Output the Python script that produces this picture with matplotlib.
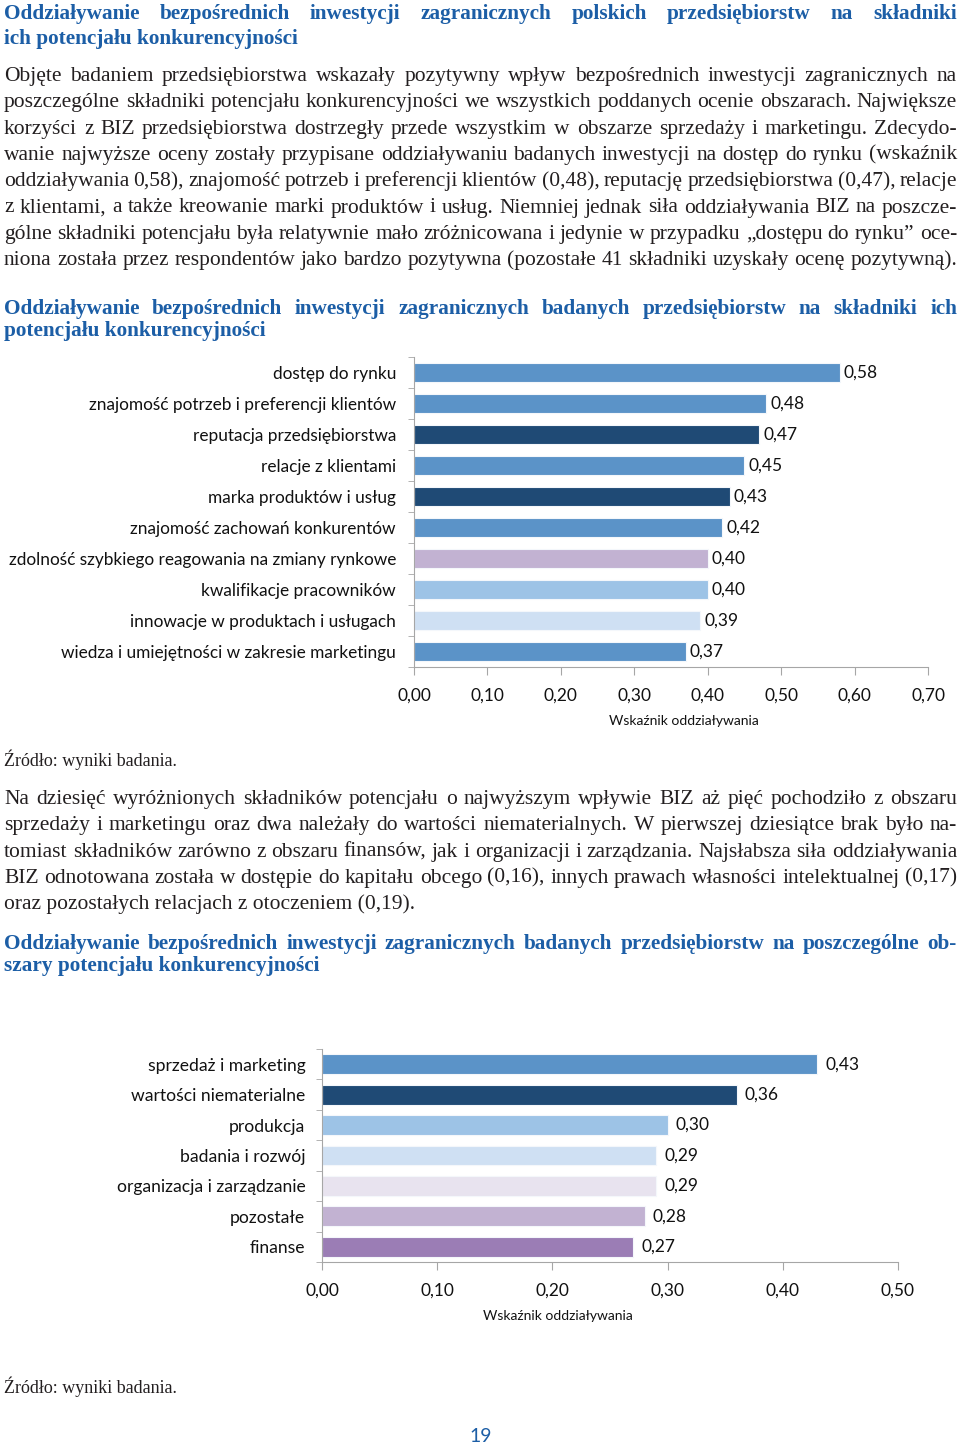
import matplotlib.pyplot as plt
import numpy as np

# --- data ---
cats_top = ['dostęp do rynku', 'znajomość potrzeb i preferencji klientów', 'reputacja przedsiębiorstwa',
            'relacje z klientami', 'marka produktów i usług', 'znajomość zachowań konkurentów',
            'zdolność szybkiego reagowania na zmiany rynkowe', 'kwalifikacje pracowników',
            'innowacje w produktach i usługach', 'wiedza i umiejętności w zakresie marketingu']
vals_top = [0.58, 0.48, 0.47, 0.45, 0.43, 0.42, 0.40, 0.40, 0.39, 0.37]
colors_top = ['#5b93c8', '#5b93c8', '#1f4a75', '#5b93c8', '#1f4a75', '#5b93c8',
              '#c2b2d2', '#9dc3e6', '#cfe0f3', '#5b93c8']

cats_bot = ['sprzedaż i marketing', 'wartości niematerialne', 'produkcja', 'badania i rozwój',
            'organizacja i zarządzanie', 'pozostałe', 'finanse']
vals_bot = [0.43, 0.36, 0.30, 0.29, 0.29, 0.28, 0.27]
colors_bot = ['#5b93c8', '#1f4a75', '#9dc3e6', '#cfe0f3', '#e8e3ef', '#c2b2d2', '#9b7db5']

title1 = ['Oddziaływanie bezpośrednich inwestycji zagranicznych polskich przedsiębiorstw na składniki',
          'ich potencjału konkurencyjności']
para1 = ['Objęte badaniem przedsiębiorstwa wskazały pozytywny wpływ bezpośrednich inwestycji zagranicznych na',
         'poszczególne składniki potencjału konkurencyjności we wszystkich poddanych ocenie obszarach. Największe',
         'korzyści z BIZ przedsiębiorstwa dostrzegły przede wszystkim w obszarze sprzedaży i marketingu. Zdecydo-',
         'wanie najwyższe oceny zostały przypisane oddziaływaniu badanych inwestycji na dostęp do rynku (wskaźnik',
         'oddziaływania 0,58), znajomość potrzeb i preferencji klientów (0,48), reputację przedsiębiorstwa (0,47), relacje',
         'z klientami, a także kreowanie marki produktów i usług. Niemniej jednak siła oddziaływania BIZ na poszcze-',
         'gólne składniki potencjału była relatywnie mało zróżnicowana i jedynie w przypadku „dostępu do rynku” oce-',
         'niona została przez respondentów jako bardzo pozytywna (pozostałe 41 składniki uzyskały ocenę pozytywną).']
title2 = ['Oddziaływanie bezpośrednich inwestycji zagranicznych badanych przedsiębiorstw na składniki ich',
          'potencjału konkurencyjności']
para2 = ['Na dziesięć wyróżnionych składników potencjału o najwyższym wpływie BIZ aż pięć pochodziło z obszaru',
         'sprzedaży i marketingu oraz dwa należały do wartości niematerialnych. W pierwszej dziesiątce brak było na-',
         'tomiast składników zarówno z obszaru finansów, jak i organizacji i zarządzania. Najsłabsza siła oddziaływania',
         'BIZ odnotowana została w dostępie do kapitału obcego (0,16), innych prawach własności intelektualnej (0,17)',
         'oraz pozostałych relacjach z otoczeniem (0,19).']
title3 = ['Oddziaływanie bezpośrednich inwestycji zagranicznych badanych przedsiębiorstw na poszczególne ob-',
          'szary potencjału konkurencyjności']
source = 'Źródło: wyniki badania.'
xlabel = 'Wskaźnik oddziaływania'

BLUE = '#1c5ea6'
TXT = '#231f20'
SERIF = 'Liberation Serif'
SANS = 'Lato'

W, H = 960, 1443
fig = plt.figure(figsize=(W / 100, H / 100), dpi=100)
page = fig.add_axes([0, 0, 1, 1])
page.set_xlim(0, W)
page.set_ylim(H, 0)
page.axis('off')
renderer = fig.canvas.get_renderer()


def text_line(s, y, justify=True, x0=4, x1=957, **kw):
    words = s.split(' ')
    if not justify or len(words) == 1:
        page.text(x0, y, s, va='baseline', ha='left', **kw)
        return
    objs = [page.text(0, y, w, va='baseline', ha='left', **kw) for w in words]
    widths = [o.get_window_extent(renderer).width for o in objs]
    gap = (x1 - x0 - sum(widths)) / (len(words) - 1)
    x = x0
    for o, w in zip(objs, widths):
        o.set_x(x)
        x += w + gap


def block(lines, baselines, last_justify, **kw):
    for i, (s, y) in enumerate(zip(lines, baselines)):
        j = True if i < len(lines) - 1 else last_justify
        text_line(s, y, justify=j, **kw)


title_kw = dict(family=SERIF, fontsize=15.3, fontweight='bold', color=BLUE)
body_kw = dict(family=SERIF, fontsize=15.5, color=TXT)

block(title1, [19, 44], False, **title_kw)
block(para1, [81 + 26.3 * i for i in range(8)], True, **body_kw)
block(title2, [314, 336], False, **title_kw)
page.text(4, 766, source, va='baseline', family=SERIF, fontsize=13, color=TXT)
block(para2, [804 + 26.3 * i for i in range(5)], False, **body_kw)
block(title3, [949, 971], False, **title_kw)
page.text(4, 1393, source, va='baseline', family=SERIF, fontsize=13, color=TXT)
page.text(481, 1442, '19', va='baseline', ha='center', family=SANS, fontsize=14, color=BLUE)


def fmt(v):
    return f'{v:.2f}'.replace('.', ',')


def bar_chart(l, t, r, b, cats, vals, colors, xmax, ypad, bar_h, val_off, label_x, label_y, cat_size):
    ax = fig.add_axes([l / W, 1 - b / H, (r - l) / W, (b - t) / H])
    y = np.arange(len(cats))
    ax.barh(y, vals, height=bar_h, color=colors, edgecolor='#f4f7fb', linewidth=0.8)
    ax.set_ylim(len(cats) - 0.5, -0.5)
    ax.set_xlim(0, xmax)
    ax.set_yticks(y, cats, family=SANS, fontsize=cat_size, color='#111111')
    ax.set_yticks(np.arange(len(cats) + 1) - 0.5, minor=True)
    ax.tick_params(axis='y', which='major', length=0, pad=ypad)
    ax.tick_params(axis='y', which='minor', length=4, color='#a6a6a6')
    xt = np.round(np.arange(0, xmax + 0.001, 0.1), 2)
    ax.set_xticks(xt, [fmt(v) for v in xt], family=SANS, fontsize=12.5, color='#111111')
    ax.tick_params(axis='x', length=6, color='#a6a6a6', pad=9)
    for s in ['top', 'right']:
        ax.spines[s].set_visible(False)
    for s in ['left', 'bottom']:
        ax.spines[s].set_color('#a6a6a6')
    px = xmax / (r - l)
    for yi, v in zip(y, vals):
        ax.text(v + val_off * px, yi, fmt(v), va='center', ha='left', family=SANS, fontsize=12.5, color='#111111')
    ax.set_xlabel(xlabel, family=SANS, fontsize=10, color='#111111', va='center')
    ax.xaxis.set_label_coords((label_x - l) / (r - l), (b - label_y) / (b - t))
    ax.patch.set_alpha(0)
    return ax


bar_chart(414, 357, 928, 667, cats_top, vals_top, colors_top, 0.70, 13, 0.6, 4, 684, 721, 12.4)
bar_chart(322, 1049, 898, 1262, cats_bot, vals_bot, colors_bot, 0.50, 12, 0.65, 8, 558, 1316, 12.6)

fig.savefig('out.png', dpi=100)
